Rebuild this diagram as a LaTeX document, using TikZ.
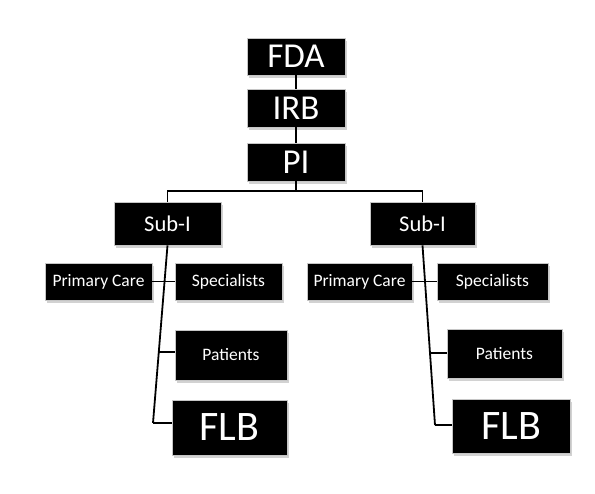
\documentclass[tikz,border=0pt]{standalone}
\usepackage{fontspec}
\setmainfont{Carlito}
\usetikzlibrary{shadows}

\begin{document}
\begin{tikzpicture}[x=1pt, y=-1pt,
    box/.style={fill=black, draw=gray!45, line width=0.6pt, text=white,
      inner sep=0pt, drop shadow={shadow xshift=2pt, shadow yshift=-3pt, fill=gray!70}},
    link/.style={line width=1.8pt}]
  \useasboundingbox (0,0) rectangle (595,494);

  % 顶层
  \node[box, minimum width=98pt, minimum height=37pt, font=\fontsize{35}{35}\selectfont] (fda) at (296,56.5) {FDA};
  \node[box, minimum width=98pt, minimum height=38pt, font=\fontsize{35}{35}\selectfont] (irb) at (296,108) {IRB};
  \node[box, minimum width=98pt, minimum height=38pt, font=\fontsize{35}{35}\selectfont] (pi) at (296,162) {PI};

  % Sub-I
  \node[box, minimum width=107pt, minimum height=43pt, font=\fontsize{22.5}{22.5}\selectfont] (lsub) at (167.5,223.5) {Sub-I};
  \node[box, minimum width=105pt, minimum height=43pt, font=\fontsize{22.5}{22.5}\selectfont] (rsub) at (422.5,223.5) {Sub-I};

  % 左侧
  \node[box, minimum width=107pt, minimum height=37pt, font=\fontsize{17.5}{17.5}\selectfont] (lpc) at (98.5,281.5) {Primary Care};
  \node[box, minimum width=107pt, minimum height=37pt, font=\fontsize{17.5}{17.5}\selectfont] (lsp) at (228.5,281.5) {Specialists};
  \node[box, minimum width=112pt, minimum height=50pt, font=\fontsize{17.5}{17.5}\selectfont] (lpat) at (231,355) {Patients};
  \node[box, minimum width=115pt, minimum height=55pt, font=\fontsize{42}{42}\selectfont] (lflb) at (229.5,427.5) {FLB};

  % 右侧
  \node[box, minimum width=105pt, minimum height=37pt, font=\fontsize{17.5}{17.5}\selectfont] (rpc) at (359.5,281.5) {Primary Care};
  \node[box, minimum width=111pt, minimum height=37pt, font=\fontsize{17.5}{17.5}\selectfont] (rsp) at (492.5,281.5) {Specialists};
  \node[box, minimum width=115pt, minimum height=49pt, font=\fontsize{17.5}{17.5}\selectfont] (rpat) at (504.5,353.5) {Patients};
  \node[box, minimum width=118pt, minimum height=54pt, font=\fontsize{42}{42}\selectfont] (rflb) at (511,426) {FLB};

  % 连线
  \draw[link] (fda) -- (irb);
  \draw[link] (irb) -- (pi);
  \draw[link] (pi.south) -- ++(0,10) coordinate (bus);
  \draw[link] (lsub.north) |- (bus) -| (rsub.north);

  % 左侧主干
  \coordinate (lbot) at (153,423);
  \draw[link] (lsub.south) -- (lbot);
  \path (lsub.south) -- (lbot) coordinate[pos=0.6] (lmid);
  \draw[link] (lpc.east) -- (lsp.west);
  \draw[link] (lmid) -- (lmid -| lpat.west);
  \draw[link] (lbot) -- (lbot -| lflb.west);

  % 右侧主干
  \coordinate (rbot) at (435,425);
  \draw[link] (rsub.south) -- (rbot);
  \path (rsub.south) -- (rbot) coordinate[pos=0.6] (rmid);
  \draw[link] (rpc.east) -- (rsp.west);
  \draw[link] (rmid) -- (rmid -| rpat.west);
  \draw[link] (rbot) -- (rbot -| rflb.west);
\end{tikzpicture}
\end{document}
